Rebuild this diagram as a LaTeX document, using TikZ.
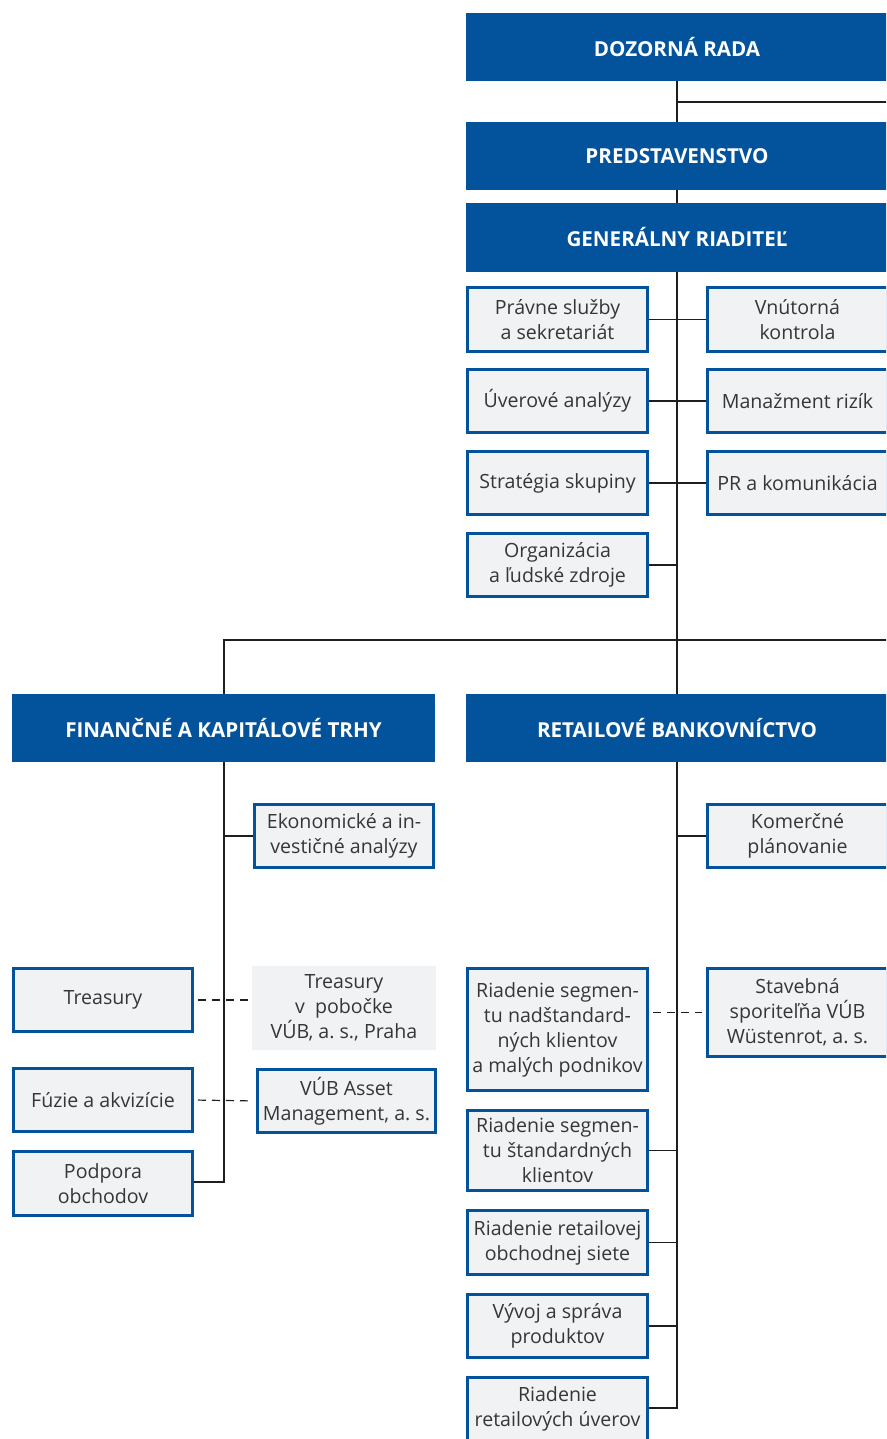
\documentclass[tikz,border=0pt]{standalone}
\usepackage{fontspec}
\setmainfont{Open Sans}
\usetikzlibrary{positioning}
\definecolor{vubblue}{HTML}{03539C}
\definecolor{boxgrey}{HTML}{F1F2F4}
\definecolor{txtgrey}{HTML}{363636}
\definecolor{linec}{HTML}{1E1E1E}
\tikzset{
  bigbox/.style={fill=vubblue, draw=none, minimum width=#1, minimum height=68pt, inner sep=0pt,
    text=white, font=\fontsize{20.6}{24}\selectfont\bfseries, align=center},
  smallbox/.style={fill=boxgrey, draw=vubblue, line width=3pt, minimum width=180pt, minimum height=#1,
    inner sep=0pt, text=txtgrey, font=\fontsize{19.6}{25}\selectfont, align=center},
  plainbox/.style={fill=boxgrey, draw=none, minimum width=184pt, minimum height=84pt,
    inner sep=0pt, text=txtgrey, font=\fontsize{19.6}{25}\selectfont, align=center},
  conn/.style={draw=linec, line width=1.2pt},
  dconn/.style={draw=linec, line width=1.2pt, dash pattern=on 8pt off 6pt, shorten <=4pt, shorten >=4pt},
}
\begin{document}
\begin{tikzpicture}[x=1pt,y=-1pt]
\useasboundingbox (0,0) rectangle (886,1439);
\clip (0,0) rectangle (886,1439);
% top blue boxes
\node[bigbox=422pt] (dr) at (677,47) {DOZORNÁ RADA};
\node[bigbox=422pt] (pr) at (677,156) {PREDSTAVENSTVO};
\node[bigbox=422pt] (gr) at (677,237.5) {GENERÁLNY RIADITEĽ};
% staff units
\node[smallbox=64pt] (ps) at (557.5,319.5) {Právne služby\\a sekretariát};
\node[smallbox=64pt] (vk) at (797.5,319.5) {Vnútorná\\kontrola};
\node[smallbox=63pt] (ua) at (557.5,401) {Úverové analýzy};
\node[smallbox=63pt] (mr) at (797.5,401) {Manažment rizík};
\node[smallbox=63pt] (sg) at (557.5,483) {Stratégia skupiny};
\node[smallbox=63pt] (prk) at (797.5,483) {PR a komunikácia};
\node[smallbox=63pt] (org) at (557.5,565) {Organizácia\\a ľudské zdroje};
% divisions
\node[bigbox=423pt] (fin) at (223.5,728) {FINANČNÉ A KAPITÁLOVÉ TRHY};
\node[bigbox=422pt] (ret) at (677,728) {RETAILOVÉ BANKOVNÍCTVO};
% financial markets units
\node[smallbox=63pt, minimum width=179pt] (eko) at (344,836) {Ekonomické a in-\\vestičné analýzy};
\node[smallbox=63pt, minimum width=179pt] (tr) at (103,1000) {Treasury};
\node[plainbox] (trp) at (344,1008) {Treasury\\v\ \ pobočke\\VÚB, a.\ s., Praha};
\node[smallbox=63pt, minimum width=179pt] (fz) at (103,1100) {Fúzie a akvizície};
\node[smallbox=63pt, minimum width=178pt] (va) at (346.5,1101) {VÚB Asset\\Management, a.\ s.};
\node[smallbox=64pt, minimum width=179pt] (po) at (103,1183.5) {Podpora\\obchodov};
% retail units
\node[smallbox=63pt] (kp) at (797.5,836) {Komerčné\\plánovanie};
\node[smallbox=122pt] (rn) at (557.5,1029.5) {Riadenie segmen-\\tu nadštandard-\\ných klientov\\a malých podnikov};
\node[smallbox=88pt] (sv) at (797.5,1012.5) {Stavebná\\sporiteľňa VÚB\\Wüstenrot, a.\ s.};
\node[smallbox=80pt] (rs) at (557.5,1150.5) {Riadenie segmen-\\tu štandardných\\klientov};
\node[smallbox=64pt] (rro) at (557.5,1242.5) {Riadenie retailovej\\obchodnej siete};
\node[smallbox=63pt] (vsp) at (557.5,1326) {Vývoj a správa\\produktov};
\node[smallbox=63pt] (rru) at (557.5,1409) {Riadenie\\retailových úverov};
% coordinates
\coordinate (rEdge1) at (890,102);
\coordinate (rEdge2) at (890,640);
\coordinate (fTop) at (224,640);
\coordinate (fBot) at (224,1182);
\coordinate (rBot) at (677,1408);
% connectors: top
\draw[conn] (dr.south) -- (pr.north);
\draw[conn] (dr.south |- rEdge1) -- (rEdge1);
\draw[conn] (pr.south) -- (gr.north);
\draw[conn] (gr.south) -- (ret.north);
\draw[conn] (fin.north -| fTop) -- (fTop) -- (rEdge2);
\draw[conn] (ps.east) -- (vk.west);
\draw[conn] (ua.east) -- (mr.west);
\draw[conn] (sg.east) -- (prk.west);
\draw[conn] (org.east) -- (org.east -| gr.south);
% financial markets
\draw[conn] (fin.south -| fTop) -- (fBot) -- (po.east |- fBot);
\draw[conn] (eko.west) -- (eko.west -| fTop);
\draw[dconn] (tr.east) -- (tr.east -| trp.west);
\draw[dconn] (fz.east) -- (va.west);
% retail
\draw[conn] (ret.south) -- (rBot) -- (rru.east |- rBot);
\draw[conn] (kp.west) -- (kp.west -| ret.south);
\draw[dconn] (rn.east |- sv.west) -- (sv.west);
\draw[conn] (rs.east) -- (rs.east -| ret.south);
\draw[conn] (rro.east) -- (rro.east -| ret.south);
\draw[conn] (vsp.east) -- (vsp.east -| ret.south);
\end{tikzpicture}
\end{document}
